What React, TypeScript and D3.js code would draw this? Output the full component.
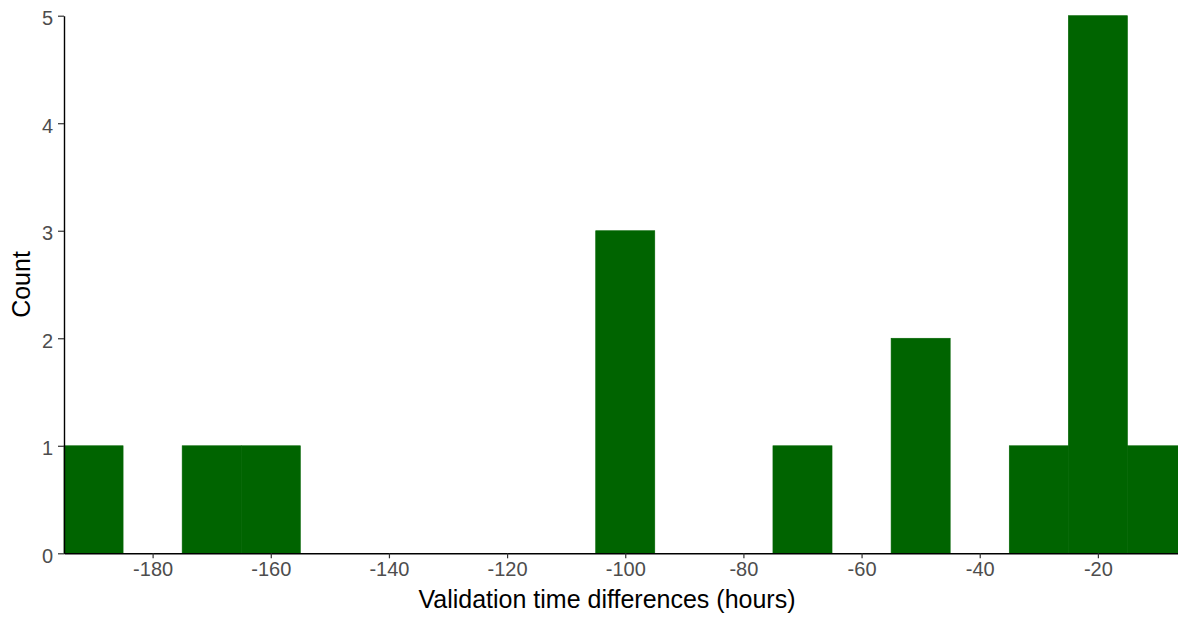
import { useEffect, useRef } from 'react';
import * as d3 from 'd3';

// histogram bins (width 10 hours), left edges and counts
const binStarts = [-195, -185, -175, -165, -155, -145, -135, -125, -115, -105, -95, -85, -75, -65, -55, -45, -35, -25, -15];
const counts = [1, 0, 1, 1, 0, 0, 0, 0, 0, 3, 0, 0, 1, 0, 2, 0, 1, 5, 1];
const xTicks = [-180, -160, -140, -120, -100, -80, -60, -40, -20];
const yTicks = [0, 1, 2, 3, 4, 5];

const BIN_WIDTH = 10;

export default function App() {
  const ref = useRef<SVGSVGElement | null>(null);

  useEffect(() => {
    if (!ref.current) return;
    const svg = d3.select(ref.current);
    svg.selectAll('*').remove();

    const left = 64;
    const right = 1186.5;
    const top = 15.7;
    const bottom = 553.3;

    const x = d3.scaleLinear().domain([-195, -5]).range([left, right]);
    const y = d3.scaleLinear().domain([0, 5]).range([bottom, top]);

    const bins = binStarts.map((s, i) => ({ x0: s, x1: s + BIN_WIDTH, count: counts[i] }));

    // bars (stroke in same colour hides seams between adjacent bins)
    svg.append('g')
      .selectAll('rect')
      .data(bins.filter(d => d.count > 0))
      .enter()
      .append('rect')
      .attr('x', d => x(d.x0))
      .attr('y', d => y(d.count))
      .attr('width', d => x(d.x1) - x(d.x0))
      .attr('height', d => y(0) - y(d.count))
      .attr('fill', '#006400')
      .attr('stroke', '#006400')
      .attr('stroke-width', 0.6);

    const fmt = (d: d3.NumberValue) => String(d);

    // x axis
    const xAxis = svg.append('g')
      .attr('transform', `translate(0,${bottom})`)
      .call(d3.axisBottom(x).tickValues(xTicks).tickFormat(fmt).tickSize(5).tickPadding(4).tickSizeOuter(0));
    xAxis.select('.domain').attr('stroke', '#000').attr('stroke-width', 1.4);
    xAxis.selectAll('.tick line').attr('stroke', '#333').attr('stroke-width', 1.2);
    xAxis.selectAll('.tick text')
      .attr('fill', '#4d4d4d')
      .style('font-family', '"Liberation Sans", Arial, sans-serif')
      .style('font-size', '20px');

    // y axis
    const yAxis = svg.append('g')
      .attr('transform', `translate(${left},0)`)
      .call(d3.axisLeft(y).tickValues(yTicks).tickFormat(fmt).tickSize(6).tickPadding(5).tickSizeOuter(0));
    yAxis.select('.domain').attr('stroke', '#000').attr('stroke-width', 1.4);
    yAxis.selectAll('.tick line').attr('stroke', '#333').attr('stroke-width', 1.2);
    yAxis.selectAll('.tick text')
      .attr('fill', '#4d4d4d')
      .attr('dy', '0.45em')
      .style('font-family', '"Liberation Sans", Arial, sans-serif')
      .style('font-size', '20px');

    // axis titles
    svg.append('text')
      .attr('x', 607)
      .attr('y', 608)
      .attr('text-anchor', 'middle')
      .attr('fill', '#000')
      .style('font-family', '"Liberation Sans", Arial, sans-serif')
      .style('font-size', '25px')
      .text('Validation time differences (hours)');

    svg.append('text')
      .attr('transform', `translate(30,${(top + bottom) / 2}) rotate(-90)`)
      .attr('text-anchor', 'middle')
      .attr('fill', '#000')
      .style('font-family', '"Liberation Sans", Arial, sans-serif')
      .style('font-size', '25px')
      .text('Count');
  }, []);

  return (
    <div style={{ position: 'absolute', left: 0, top: 0, width: 1178, height: 619, overflow: 'hidden', background: '#fff' }}>
      <svg ref={ref} width={1178} height={619} style={{ display: 'block' }} />
    </div>
  );
}
